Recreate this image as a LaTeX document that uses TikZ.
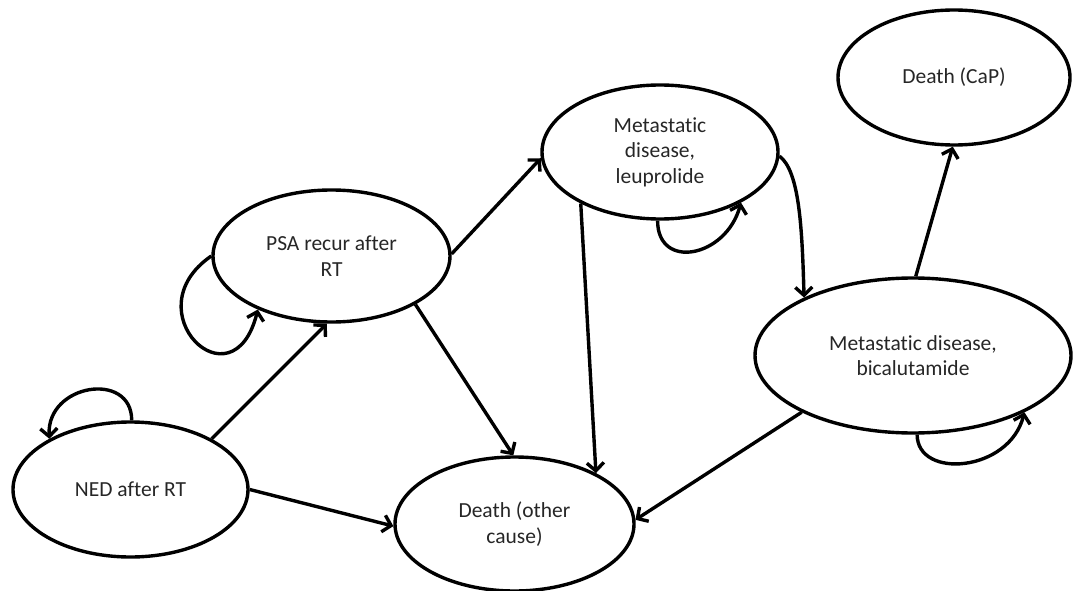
\documentclass[tikz,border=0pt]{standalone}
\usepackage{fontspec}
\setmainfont{Carlito}[Ligatures=NoCommon]
\usetikzlibrary{shapes.geometric,arrows.meta}
\tikzset{
  state/.style={ellipse, draw=black, line width=3.4pt, inner sep=0pt, align=center,
    text=black!85, font=\fontsize{21.5}{25.5}\selectfont},
  trans/.style={line width=3.4pt, -{Straight Barb[length=8pt,width=17pt]}}
}
\begin{document}
\begin{tikzpicture}[x=1pt,y=1pt]
\useasboundingbox (0,0) rectangle (1073,-591);
\node[state, minimum width=235pt, minimum height=135pt] (ned) at (130.5,-489.5) {NED after RT};
\node[state, minimum width=237pt, minimum height=132pt] (psa) at (331.5,-256) {PSA recur after\\RT};
\node[state, minimum width=236pt, minimum height=134pt] (leu) at (660,-152) {Metastatic\\disease,\\leuprolide};
\node[state, minimum width=239pt, minimum height=134pt] (oth) at (514.5,-524) {Death (other\\cause)};
\node[state, minimum width=232pt, minimum height=135pt] (cap) at (954,-77.5) {Death (CaP)};
\node[state, minimum width=316pt, minimum height=155pt] (bic) at (913,-355.5) {Metastatic disease,\\bicalutamide};

% straight transitions
\draw[trans] (ned.32) -- (psa.266);
\draw[trans] (ned.0) -- (oth.181);
\draw[trans] (psa.1) -- (leu.183);
\draw[trans] (psa.330) -- (oth.91);
\draw[trans] (leu.213) -- (oth.32);
\draw[trans] (bic.207) -- (oth.2);
\draw[trans] (bic.88) -- (cap.269);
% curved transition
\draw[trans] (leu.358) .. controls +(20,-15) and +(-2,70) .. (bic.152);
% self loops
\draw[trans] (ned.89) .. controls +(0,50) and +(-3,55) .. (ned.148);
\draw[trans] (psa.180) .. controls +(-80,-55) and +(-25,-100) .. (psa.216);
\draw[trans] (leu.268) .. controls +(0,-50) and +(-15,-55) .. (leu.328);
\draw[trans] (bic.273) .. controls +(0,-45) and +(-15,-60) .. (bic.333);
\end{tikzpicture}
\end{document}
